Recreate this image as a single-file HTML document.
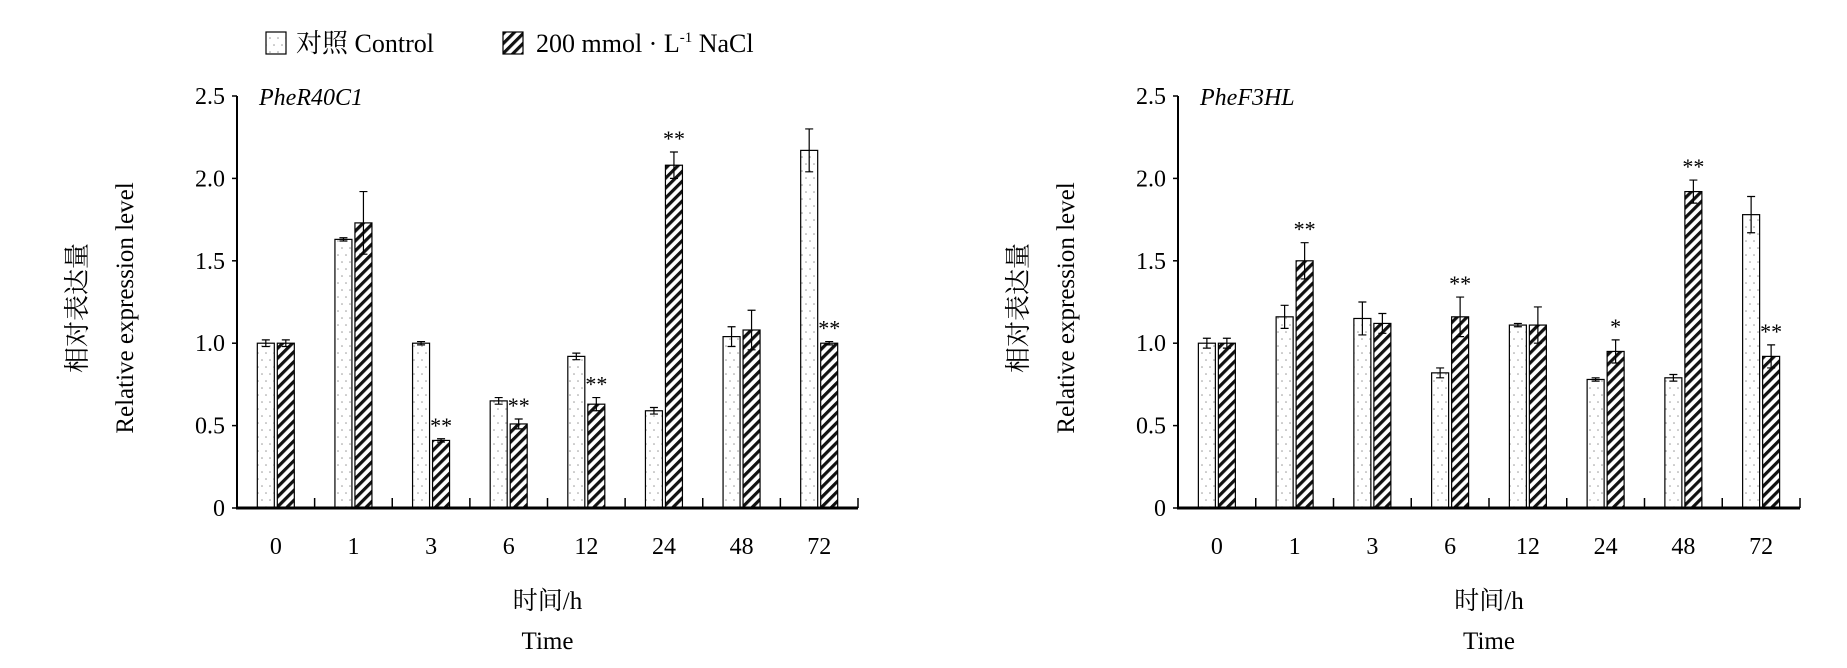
<!DOCTYPE html>
<html><head><meta charset="utf-8">
<style>
html,body{margin:0;padding:0;background:#fff;}
svg{display:block;font-family:"Liberation Serif","Noto Serif CJK SC",serif;}
</style></head>
<body>
<svg id="fig" width="1847" height="668" viewBox="0 0 1847 668" xmlns="http://www.w3.org/2000/svg">
<defs>
<pattern id="dots" width="8" height="14" patternUnits="userSpaceOnUse">
<rect width="8" height="14" fill="#fff"/>
<circle cx="2" cy="3" r="0.8" fill="#999"/>
<circle cx="6" cy="10" r="0.8" fill="#999"/>
</pattern>
<pattern id="hatch" width="7" height="7" patternUnits="userSpaceOnUse" patternTransform="rotate(45)">
<rect width="7" height="7" fill="#fff"/>
<rect x="0" y="0" width="3.2" height="7" fill="#111"/>
</pattern>
</defs>
<g>
<rect x="266" y="32" width="20" height="22" fill="url(#dots)" stroke="#000" stroke-width="1.2"/>
<text x="296" y="52" font-size="26">对照 Control</text>
<rect x="503" y="32" width="20" height="22" fill="url(#hatch)" stroke="#000" stroke-width="1.2"/>
<text x="536" y="52" font-size="26">200 mmol · L<tspan font-size="15" dy="-10">-1</tspan><tspan dy="10"> NaCl</tspan></text>
</g>
</svg>
<script>
const categories = ["0","1","3","6","12","24","48","72"];
const yTicks = [0,0.5,1.0,1.5,2.0,2.5];
const yTickLabels = ["0","0.5","1.0","1.5","2.0","2.5"];
const leftControl = [1.0,1.63,1.0,0.65,0.92,0.59,1.04,2.17];
const leftControlErr = [0.02,0.01,0.01,0.02,0.02,0.02,0.06,0.13];
const leftNaCl = [1.0,1.73,0.41,0.51,0.63,2.08,1.08,1.0];
const leftNaClErr = [0.02,0.19,0.01,0.03,0.04,0.08,0.12,0.01];
const leftStars = ["","","**","**","**","**","","**"];
const rightControl = [1.0,1.16,1.15,0.82,1.11,0.78,0.79,1.78];
const rightControlErr = [0.03,0.07,0.10,0.03,0.01,0.01,0.02,0.11];
const rightNaCl = [1.0,1.5,1.12,1.16,1.11,0.95,1.92,0.92];
const rightNaClErr = [0.03,0.11,0.06,0.12,0.11,0.07,0.07,0.07];
const rightStars = ["","**","","**","","*","**","**"];

const NS="http://www.w3.org/2000/svg";
const svg=document.getElementById('fig');
function mk(tag,attrs,parent){const e=document.createElementNS(NS,tag);for(const k in attrs)e.setAttribute(k,attrs[k]);(parent||svg).appendChild(e);return e;}

function chart(prefix,x0,x1,gene,ctrl,ctrlErr,nacl,naclErr,stars){
  const y0=508,yTop=96,yMax=2.5;
  const ys=v=>y0-(v/yMax)*(y0-yTop);
  const cw=(x1-x0)/categories.length;
  const xc=i=>x0+cw*(i+0.5);
  const g=mk('g',{});
  
  
  const bw=17,gap=3;
  function bar(v,e,i,side,fill,name){
    const x= side<0 ? xc(i)-gap/2-bw : xc(i)+gap/2;
    const r=mk('rect',{x:x,y:ys(v),width:bw,height:y0-ys(v),fill:fill,stroke:'#000','stroke-width':1.2},g);
    
    
    const cx=x+bw/2;
    const eb=mk('path',{d:`M${cx} ${ys(v-e)}V${ys(v+e)}M${cx-4} ${ys(v+e)}H${cx+4}M${cx-4} ${ys(v-e)}H${cx+4}`,stroke:'#000','stroke-width':1.2,fill:'none'},g);
    
    
    return cx;
  }
  categories.forEach((c,i)=>{
    bar(ctrl[i],ctrlErr[i],i,-1,'url(#dots)','control');
    const cx=bar(nacl[i],naclErr[i],i,1,'url(#hatch)','nacl');
    if(stars[i]){
      const t=mk('text',{x:cx,y:ys(nacl[i]+naclErr[i])-6,'font-size':22,'text-anchor':'middle'},g);
      t.textContent=stars[i];
      
      
    }
    const lb=mk('text',{x:xc(i),y:554,'font-size':24,'text-anchor':'middle'},g);
    lb.textContent=c;
    
    
    const tk=mk('line',{x1:x0+cw*(i+1),x2:x0+cw*(i+1),y1:y0,y2:y0-10,stroke:'#000','stroke-width':1.5},g);
    
    
  });
  yTicks.forEach((v,i)=>{
    const t=mk('text',{x:x0-12,y:ys(v)+8,'font-size':24,'text-anchor':'end'},g);
    t.textContent=yTickLabels[i];
    
    
    const tk=mk('line',{x1:x0-5,x2:x0,y1:ys(v),y2:ys(v),stroke:'#000','stroke-width':1.5},g);
    
    
  });
  const ya=mk('line',{x1:x0,x2:x0,y1:yTop,y2:y0,stroke:'#000','stroke-width':2},g);
  
  
  const xa=mk('line',{x1:x0-1,x2:x1,y1:y0,y2:y0,stroke:'#000','stroke-width':3},g);
  
  
  const gt=mk('text',{x:x0+22,y:yTop+9,'font-size':24,'font-style':'italic'},g);
  gt.textContent=gene;
  
  
  const xm=(x0+x1)/2;
  const xt1=mk('text',{x:xm,y:609,'font-size':25,'text-anchor':'middle'},g);
  xt1.textContent='时间/h';
  
  
  const xt2=mk('text',{x:xm,y:649,'font-size':25,'text-anchor':'middle'},g);
  xt2.textContent='Time';
  
  
  const yc=308;
  const yt1=mk('text',{x:0,y:0,'font-size':26,'text-anchor':'middle',transform:`translate(${x0-151},${yc}) rotate(-90)`},g);
  yt1.textContent='相对表达量';
  
  
  const yt2=mk('text',{x:0,y:0,'font-size':25,'text-anchor':'middle',transform:`translate(${x0-104},${yc}) rotate(-90)`},g);
  yt2.textContent='Relative expression level';
  
  
}
chart('left',237,858,'PheR40C1',leftControl,leftControlErr,leftNaCl,leftNaClErr,leftStars);
chart('right',1178,1800,'PheF3HL',rightControl,rightControlErr,rightNaCl,rightNaClErr,rightStars);
</script>
</body></html>
